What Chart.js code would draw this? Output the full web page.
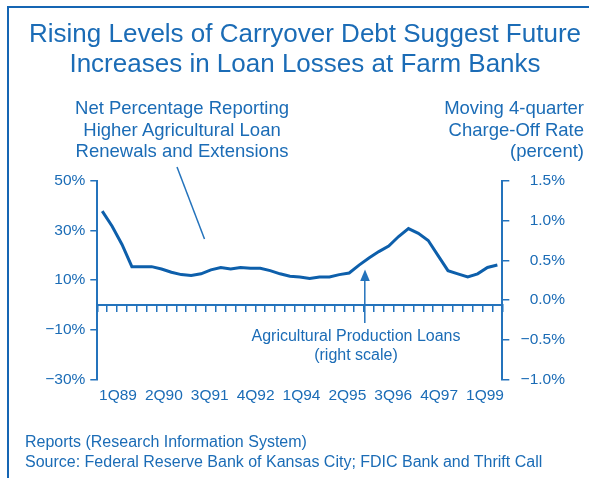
<!DOCTYPE html>
<html>
<head>
<meta charset="utf-8">
<script src="https://cdn.jsdelivr.net/npm/chart.js@4/dist/chart.umd.min.js"></script>
<style>
    html, body { margin: 0; padding: 0; background: #fff; }
    #page { position: relative; width: 589px; height: 478px; overflow: hidden; font-family: "Liberation Sans", Arial, sans-serif; color: #1b6cb6; }
    #page canvas { position: absolute; left: 0; top: 0; }
    .frame { position: absolute; left: 7px; top: 6px; width: 700px; height: 700px; border-left: 2.5px solid #1565b3; border-top: 2.5px solid #1565b3; }
    .txt { position: absolute; white-space: nowrap; }
    .title { left: 5px; width: 600px; top: 19px; font-size: 26px; line-height: 29.5px; text-align: center; }
    .sub-left { left: 32px; width: 300px; top: 97px; font-size: 18.5px; line-height: 21.7px; text-align: center; }
    .sub-right { right: 5px; top: 97px; font-size: 18.5px; line-height: 21.7px; text-align: right; }
    .note { left: 206px; width: 300px; top: 327px; font-size: 16px; line-height: 18.5px; text-align: center; }
    .footer { left: 25px; top: 432px; font-size: 16px; line-height: 20px; }
</style>
</head>
<body>
<div id="page">
    <canvas id="chart" width="589" height="478"></canvas>
    <div class="frame"></div>
    <div class="txt title">Rising Levels of Carryover Debt Suggest Future<br>Increases in Loan Losses at Farm Banks</div>
    <div class="txt sub-left">Net Percentage Reporting<br>Higher Agricultural Loan<br>Renewals and Extensions</div>
    <div class="txt sub-right">Moving 4-quarter<br>Charge-Off Rate<br>(percent)</div>
    <div class="txt note">Agricultural Production Loans<br>(right scale)</div>
    <div class="txt footer">Reports (Research Information System)<br>Source: Federal Reserve Bank of Kansas City; FDIC Bank and Thrift Call</div>
</div>
<script>
// quarters 1Q89 .. 1Q99
const quarters = [];
for (let y = 89; y <= 99; y++) {
    for (let q = 1; q <= 4; q++) {
        if (y === 99 && q > 1) break;
        quarters.push(q + 'Q' + y);
    }
}

// Agricultural production loans, moving 4-quarter charge-off rate (right scale)
const chargeOffRate = [
    1.12, 0.93, 0.70, 0.42, 0.42, 0.42, 0.39, 0.35, 0.32, 0.31,
    0.33, 0.38, 0.41, 0.39, 0.41, 0.40, 0.40, 0.37, 0.33, 0.30,
    0.29, 0.27, 0.29, 0.29, 0.32, 0.34, 0.44, 0.53, 0.61, 0.68,
    0.80, 0.90, 0.84, 0.75, 0.56, 0.37, 0.33, 0.29, 0.33, 0.41,
    0.44
];

const xTickLabels = ['1Q89', '2Q90', '3Q91', '4Q92', '1Q94', '2Q95', '3Q96', '4Q97', '1Q99'];

const blue = '#1b6cb6';
const axisBlue = '#2473bc';
const lineBlue = '#0d5fab';

function minus(s) {
    return String(s).replace('-', '\u2212');
}

// leader line and arrow for the two notes
const notesPlugin = {
    id: 'notes',
    afterDraw(chart) {
        const ctx = chart.ctx;
        ctx.save();
        ctx.strokeStyle = axisBlue;
        ctx.fillStyle = axisBlue;
        ctx.lineWidth = 1.5;
        ctx.beginPath();
        ctx.moveTo(177, 167);
        ctx.lineTo(204.5, 239);
        ctx.stroke();

        ctx.beginPath();
        ctx.moveTo(364.8, 323);
        ctx.lineTo(364.8, 278);
        ctx.stroke();
        ctx.beginPath();
        ctx.moveTo(365, 269.5);
        ctx.lineTo(360.2, 281);
        ctx.lineTo(369.8, 281);
        ctx.closePath();
        ctx.fill();
        ctx.restore();
    }
};

Chart.defaults.font.family = '"Liberation Sans", Arial, sans-serif';
Chart.defaults.color = blue;

new Chart(document.getElementById('chart'), {
    type: 'line',
    data: {
        labels: quarters,
        datasets: [{
            label: 'Agricultural Production Loans',
            data: chargeOffRate,
            xAxisID: 'x',
            yAxisID: 'y',
            borderColor: lineBlue,
            borderWidth: 3,
            pointRadius: 0,
            tension: 0,
            fill: false
        }]
    },
    options: {
        responsive: false,
        animation: false,
        layout: { padding: { left: 0, right: 24, top: 181, bottom: 0 } },
        plugins: {
            legend: { display: false },
            tooltip: { enabled: false }
        },
        scales: {
            x: {
                type: 'category',
                position: { yL: 0 },
                offset: true,
                ticks: { display: false },
                grid: { drawOnChartArea: false, drawTicks: true, tickLength: 6, offset: true, color: axisBlue, lineWidth: 1.5 },
                border: { display: true, color: axisBlue, width: 2 }
            },
            x2: {
                type: 'linear',
                position: 'bottom',
                min: -0.451,
                max: 8.377,
                grid: { display: false, drawTicks: false },
                border: { display: false },
                afterBuildTicks: s => { s.ticks = xTickLabels.map((t, i) => ({ value: i })); },
                afterFit: s => { s.height = 98.7; },
                ticks: {
                    autoSkip: false,
                    maxRotation: 0,
                    padding: 7,
                    font: { size: 15.5 },
                    callback: v => xTickLabels[v] || ''
                }
            },
            yL: {
                position: 'left',
                min: -30,
                max: 50,
                afterFit: s => { s.width = 97.3; },
                ticks: {
                    stepSize: 20,
                    padding: 5,
                    font: { size: 15.5 },
                    callback: v => minus(v) + '%'
                },
                grid: { drawOnChartArea: false, tickLength: 7, color: axisBlue, lineWidth: 1.5 },
                border: { color: axisBlue, width: 2 }
            },
            y: {
                position: 'right',
                min: -1,
                max: 1.5,
                afterFit: s => { s.width = 62.7; },
                ticks: {
                    stepSize: 0.5,
                    crossAlign: 'far',
                    font: { size: 15.5 },
                    callback: v => minus(v.toFixed(1)) + '%'
                },
                grid: { drawOnChartArea: false, tickLength: 7, color: axisBlue, lineWidth: 1.5 },
                border: { color: axisBlue, width: 2 }
            }
        }
    },
    plugins: [notesPlugin]
});
</script>
</body>
</html>
